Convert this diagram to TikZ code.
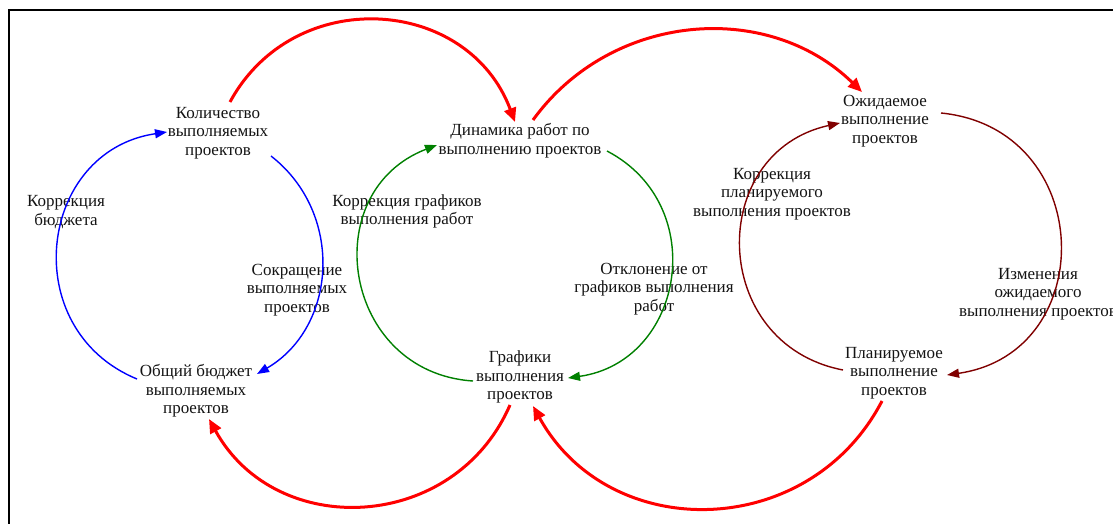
\documentclass[tikz,border=0pt]{standalone}
\usepackage{fontspec}
\setmainfont{Liberation Serif}
\usetikzlibrary{arrows.meta}
\definecolor{cblue}{RGB}{0,0,255}
\definecolor{cgreen}{RGB}{0,128,0}
\definecolor{cmaroon}{RGB}{128,0,0}
\definecolor{cred}{RGB}{255,0,0}
\definecolor{ctext}{RGB}{20,20,20}
\begin{document}
\begin{tikzpicture}[x=1pt,y=1pt,
  txt/.style={font=\fontsize{17}{18.5}\selectfont, align=center, inner sep=0pt, text=ctext},
  thinlink/.style={line width=1.4pt, -{Triangle[length=12pt,width=9pt]}},
  redlink/.style={draw=cred, line width=3pt, -{Triangle[length=14pt,width=12pt]}, fill=none}]
\useasboundingbox (0,0) rectangle (1113,-524);
\fill[white] (0,0) rectangle (1113,-524);
\draw[line width=2pt] (8.5,-524) -- (8.5,-10) -- (1113,-10);

% variables
\node[txt] (kol)  at (218,-133) {Количество\\выполняемых\\проектов};
\node[txt] (dyn)  at (520,-140.5) {Динамика работ по\\выполнению проектов};
\node[txt] (ozh)  at (885,-121) {Ожидаемое\\выполнение\\проектов};
\node[txt] (bud)  at (196,-391) {Общий бюджет\\выполняемых\\проектов};
\node[txt] (graf) at (520,-377) {Графики\\выполнения\\проектов};
\node[txt] (plan) at (894,-373) {Планируемое\\выполнение\\проектов};

% loop labels
\node[txt] (lkb)  at (66,-212) {Коррекция\\бюджета};
\node[txt] (lsok) at (297,-290) {Сокращение\\выполняемых\\проектов};
\node[txt] (lkg)  at (407,-211.5) {Коррекция графиков\\выполнения работ};
\node[txt] (lotk) at (654,-289) {Отклонение от\\графиков выполнения\\работ};
\node[txt] (lkp)  at (772,-194) {Коррекция\\планируемого\\выполнения проектов};
\node[txt] (lizm) at (1038,-294) {Изменения\\ожидаемого\\выполнения проектов};

% connector end points
\coordinate (b1s) at (137,-379); \coordinate (b1e) at (167,-132);
\coordinate (b2s) at (271,-156); \coordinate (b2e) at (257,-374);
\coordinate (g1s) at (473,-381); \coordinate (g1e) at (437,-145);
\coordinate (g2s) at (607,-151); \coordinate (g2e) at (568,-378);
\coordinate (m1s) at (843,-370); \coordinate (m1e) at (840,-123);
\coordinate (m2s) at (941,-113); \coordinate (m2e) at (947,-375);
\coordinate (r1s) at (230,-102); \coordinate (r1e) at (515,-122);
\coordinate (r2s) at (533,-120); \coordinate (r2e) at (862,-92);
\coordinate (r3s) at (510,-405); \coordinate (r3e) at (209,-419);
\coordinate (r4s) at (882,-401); \coordinate (r4e) at (533,-406);

% blue loop
\draw[thinlink, cblue] (b1s) to[out=157.6,in=188.4,looseness=1.345] (b1e);
\draw[thinlink, cblue] (b2s) to[out=-37.9,in=30.4,looseness=1.09] (b2e);
% green loop
\draw[thinlink, cgreen] (g1s) to[out=176.25,in=201.1,looseness=1.402] (g1e);
\draw[thinlink, cgreen] (g2s) to[out=-27.6,in=8.1,looseness=1.304] (g2e);
% maroon loop
\draw[thinlink, cmaroon] (m1s) to[out=169.05,in=192.4,looseness=1.416] (m1e);
\draw[thinlink, cmaroon] (m2s) to[out=-5.7,in=8.3,looseness=1.518] (m2e);
% red links
\draw[redlink] (r1s) to[out=61.5,in=110.5,looseness=1.204] (r1e);
\draw[redlink] (r2s) to[out=54.1,in=135.7,looseness=1.03] (r2e);
\draw[redlink] (r3s) to[out=-113.5,in=-61.1,looseness=1.181] (r3e);
\draw[redlink] (r4s) to[out=-117.5,in=-61.1,looseness=1.157] (r4e);
\end{tikzpicture}
\end{document}
